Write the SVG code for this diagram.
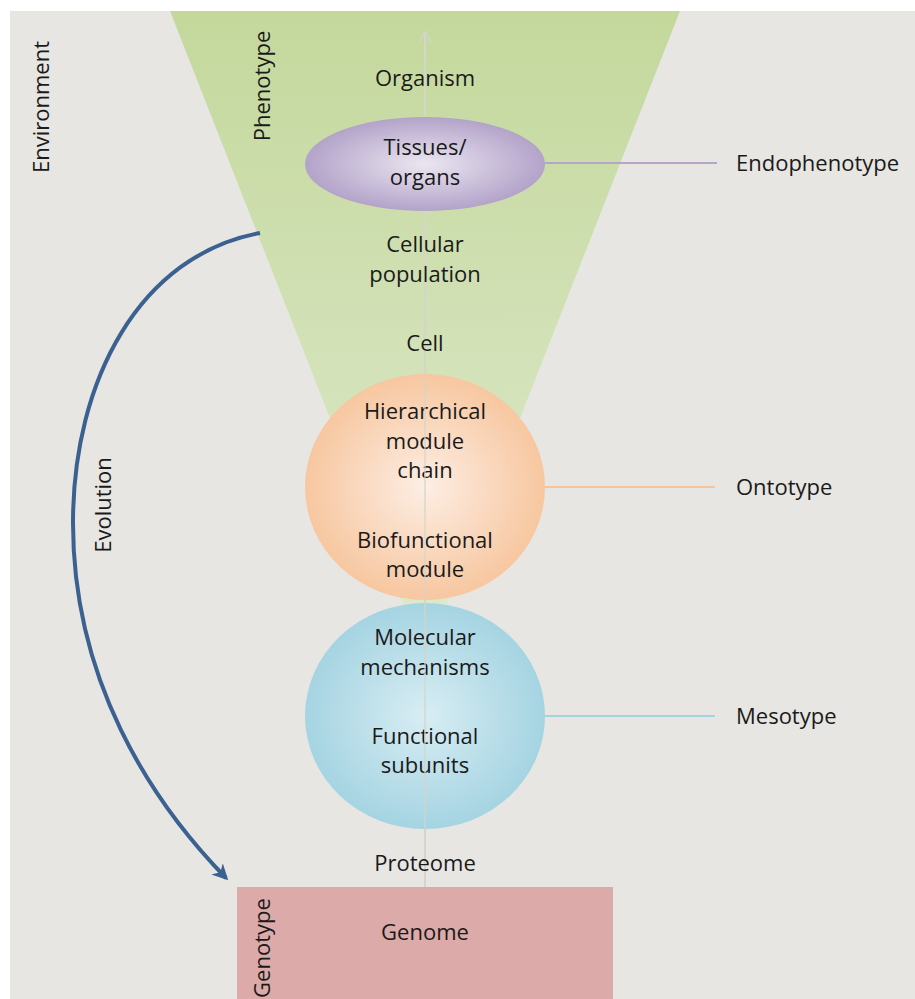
<svg xmlns="http://www.w3.org/2000/svg" width="915" height="999" viewBox="0 0 915 999">
<defs>
<linearGradient id="gGreen" x1="0" y1="0" x2="0" y2="1" gradientUnits="objectBoundingBox">
<stop offset="0" stop-color="#c4d89c"/>
<stop offset="1" stop-color="#e0ead0"/>
</linearGradient>
<radialGradient id="gPurple" cx="0.5" cy="0.5" r="0.5">
<stop offset="0" stop-color="#ebe6f1"/>
<stop offset="1" stop-color="#b3a3c9"/>
</radialGradient>
<radialGradient id="gOrange" cx="0.5" cy="0.5" r="0.5">
<stop offset="0" stop-color="#fdeee4"/>
<stop offset="1" stop-color="#f7c7a0"/>
</radialGradient>
<radialGradient id="gBlue" cx="0.5" cy="0.5" r="0.5">
<stop offset="0" stop-color="#d8edf3"/>
<stop offset="1" stop-color="#a5d4e2"/>
</radialGradient>
<marker id="arrBlue" viewBox="0 0 10 10" refX="8" refY="5" markerWidth="4" markerHeight="4" orient="auto" markerUnits="strokeWidth">
<path d="M0,0 L10,5 L0,10 L3,5 Z" fill="#3b6190"/>
</marker>
<marker id="arrGray" viewBox="0 0 10 10" refX="9" refY="5" markerWidth="6" markerHeight="6" orient="auto" markerUnits="strokeWidth">
<path d="M0,0 L10,5 L0,10" fill="none" stroke="#d2d4c4" stroke-width="1.5"/>
</marker>
<style>
text{font-family:"Open Sans","Liberation Sans",sans-serif;font-size:22px;fill:#1a1a1a}
.c{text-anchor:middle}
.conn{fill:none;stroke-width:2}
</style>
</defs>
<rect x="0" y="0" width="915" height="999" fill="#ffffff"/>
<rect x="10" y="11" width="905" height="988" fill="#e7e6e2"/>
<g id="phenotype-funnel">
<polygon points="170,11 680,11 425,660" fill="url(#gGreen)"/>
<text class="c" transform="translate(270,86) rotate(-90)">Phenotype</text>
</g>
<g id="axis">
<line x1="425" y1="907" x2="425" y2="32" stroke="#d4d6c8" stroke-width="2" marker-end="url(#arrGray)"/>
</g>
<g id="environment"><text class="c" transform="translate(49,107) rotate(-90)">Environment</text></g>
<g id="genotype">
<rect x="237" y="887" width="376" height="112" fill="#dcaaa9"/>
<text class="c" transform="translate(270,948) rotate(-90)">Genotype</text>
<text class="c" x="425" y="940">Genome</text>
</g>
<g id="connectors">
<line class="conn" x1="545" y1="163" x2="717" y2="163" stroke="#b6a5cb"/>
<line class="conn" x1="545" y1="487" x2="715" y2="487" stroke="#f6c49b"/>
<line class="conn" x1="545" y1="716" x2="715" y2="716" stroke="#a2d3e0"/>
<path id="evolution-arrow" d="M260,233 C140,255 73,380 73,523 C73,680 150,800 226,878" fill="none" stroke="#3b6190" stroke-width="4" marker-end="url(#arrBlue)"/>
</g>
<g id="evolution-label"><text class="c" transform="translate(111,505) rotate(-90)">Evolution</text></g>
<g id="organism"><text class="c" x="425" y="86">Organism</text></g>
<g id="tissues">
<ellipse cx="425" cy="164" rx="120" ry="47" fill="url(#gPurple)"/>
<text class="c" x="425" y="155">Tissues/</text>
<text class="c" x="425" y="185">organs</text>
</g>
<g id="cellular-population">
<text class="c" x="425" y="252">Cellular</text>
<text class="c" x="425" y="282">population</text>
</g>
<g id="cell"><text class="c" x="425" y="351">Cell</text></g>
<g id="orange-module">
<ellipse cx="425" cy="487" rx="120" ry="113" fill="url(#gOrange)"/>
<text class="c" x="425" y="419">Hierarchical</text>
<text class="c" x="425" y="449">module</text>
<text class="c" x="425" y="478">chain</text>
<text class="c" x="425" y="548">Biofunctional</text>
<text class="c" x="425" y="577">module</text>
</g>
<g id="blue-module">
<ellipse cx="425" cy="716" rx="120" ry="113" fill="url(#gBlue)"/>
<text class="c" x="425" y="645">Molecular</text>
<text class="c" x="425" y="675">mechanisms</text>
<text class="c" x="425" y="744">Functional</text>
<text class="c" x="425" y="773">subunits</text>
</g>
<line x1="425" y1="375" x2="425" y2="829" stroke="#d4d6c8" stroke-width="2" opacity="0.6"/>
<g id="proteome"><text class="c" x="425" y="871">Proteome</text></g>
<g id="endophenotype"><text x="736" y="171">Endophenotype</text></g>
<g id="ontotype"><text x="736" y="495">Ontotype</text></g>
<g id="mesotype"><text x="736" y="724">Mesotype</text></g>
</svg>
